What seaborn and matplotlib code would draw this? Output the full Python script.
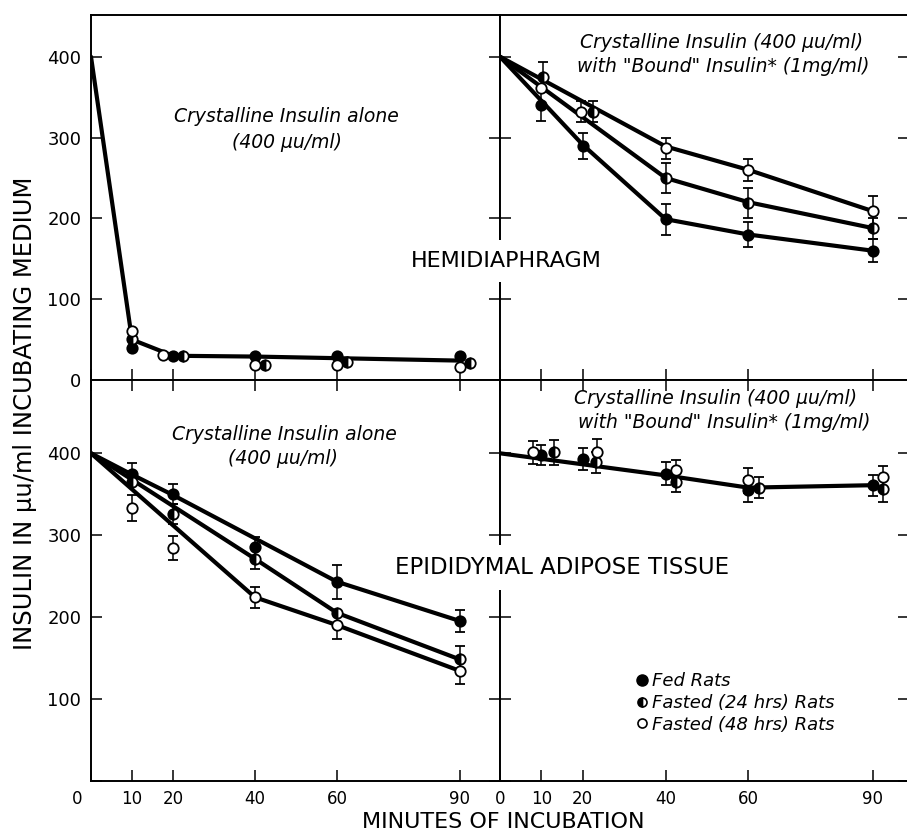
import matplotlib
matplotlib.use("Agg")
import matplotlib.pyplot as plt
import matplotlib.transforms as mtransforms
from matplotlib.lines import Line2D
import seaborn as sns

sns.set_theme(style="ticks")
plt.rcParams['font.family'] = ['DejaVu Sans']
plt.rcParams['text.color'] = 'black'
plt.rcParams['axes.labelcolor'] = 'black'
plt.rcParams['xtick.color'] = 'black'
plt.rcParams['ytick.color'] = 'black'

# ---------------- data ----------------
minutes_ticks = [0, 10, 20, 40, 60, 90]
y_ticks = [0, 100, 200, 300, 400]
group_labels = ["Fed Rats", "Fasted (24 hrs) Rats", "Fasted (48 hrs) Rats"]

# Hemidiaphragm, crystalline insulin alone (top-left)
hd_alone_line_x = [0, 10, 20, 40, 60, 90]
hd_alone_line_y = [400, 50, 30, 29, 27, 24]
hd_alone_fed_x = [10, 20, 40, 60, 90]
hd_alone_fed_y = [40, 30, 30, 30, 30]
hd_alone_f24_x = [10, 22.5, 42.5, 62.5, 92.5]
hd_alone_f24_y = [51, 30, 18.5, 22.5, 20.5]
hd_alone_f48_x = [10, 17.5, 40, 60, 90]
hd_alone_f48_y = [61, 31, 18.5, 18.5, 16.5]

# Hemidiaphragm, with bound insulin (top-right)
hd_bound_fed_line_x = [0, 20, 40, 60, 90]
hd_bound_fed_line_y = [400, 291, 199, 180, 160]
hd_bound_f24_line_x = [0, 40, 60, 90]
hd_bound_f24_line_y = [400, 250, 220, 188]
hd_bound_f48_line_x = [0, 40, 60, 90]
hd_bound_f48_line_y = [400, 289, 260, 209]
hd_bound_fed_x = [10, 20, 40, 60, 90]
hd_bound_fed_y = [340, 290, 199, 180, 160]
hd_bound_fed_err = [19, 16, 19, 15, 14]
hd_bound_f24_x = [10.5, 22.5, 40, 60, 90]
hd_bound_f24_y = [375, 332, 250, 219, 188]
hd_bound_f24_err = [19, 13, 19, 18, 13]
hd_bound_f48_x = [10, 19.5, 40, 60, 90]
hd_bound_f48_y = [361, 332, 287, 260, 209]
hd_bound_f48_err = [0, 13, 13, 14, 19]

# Epididymal adipose tissue, crystalline insulin alone (bottom-left)
ad_alone_fed_line_x = [0, 10, 20, 60, 90]
ad_alone_fed_line_y = [400, 374, 349, 243, 195]
ad_alone_f24_line_x = [0, 40, 60, 90]
ad_alone_f24_line_y = [400, 271, 205, 148]
ad_alone_f48_line_x = [0, 40, 60, 90]
ad_alone_f48_line_y = [400, 224, 190, 134]
ad_alone_fed_x = [10, 20, 40, 60, 90]
ad_alone_fed_y = [375, 350, 286, 243, 195]
ad_alone_fed_err = [13, 12, 12, 21, 13]
ad_alone_f24_x = [10, 20, 40, 60, 90]
ad_alone_f24_y = [365, 326, 271, 205, 148]
ad_alone_f24_err = [0, 12, 13, 0, 17]
ad_alone_f48_x = [10, 20, 40, 60, 90]
ad_alone_f48_y = [333, 284, 224, 190, 134]
ad_alone_f48_err = [16, 15, 13, 17, 16]

# Epididymal adipose tissue, with bound insulin (bottom-right)
ad_bound_line_x = [0, 40, 60, 90]
ad_bound_line_y = [400, 373, 358, 361]
ad_bound_fed_x = [10, 20, 40, 60, 90]
ad_bound_fed_y = [398, 393, 375, 355, 361]
ad_bound_fed_err = [12, 13, 14, 15, 13]
ad_bound_f24_x = [13, 23.3, 42.6, 62.5, 92.6]
ad_bound_f24_y = [401, 389, 365, 358, 356]
ad_bound_f24_err = [15, 13, 12, 13, 15]
ad_bound_f48_x = [8, 23.5, 42.6, 60, 92.5]
ad_bound_f48_y = [401, 402, 380, 367, 371]
ad_bound_f48_err = [14, 15, 12, 15, 14]

# ---------------- figure ----------------
W, H = 907, 831
fig = plt.figure(figsize=(W / 100, H / 100), dpi=100)
gs = fig.add_gridspec(2, 2, left=91 / W, right=909 / W, top=1 - 15 / H,
                      bottom=1 - 780.5 / H, wspace=0, hspace=0,
                      height_ratios=[365, 400.5])
ax_tl = fig.add_subplot(gs[0, 0])
ax_tr = fig.add_subplot(gs[0, 1])
ax_bl = fig.add_subplot(gs[1, 0])
ax_br = fig.add_subplot(gs[1, 1])


def fx(x):
    return x / W


def fy(y):
    return 1 - y / H


style = dict(
    fed=dict(mfc='black', fillstyle='full', ms=7.5),
    f24=dict(mfc='black', fillstyle='left', markerfacecoloralt='white', ms=7.5),
    f48=dict(mfc='white', fillstyle='full', ms=7.5),
)


def draw_line(ax, xs, ys):
    sns.lineplot(x=xs, y=ys, ax=ax, color='black', linewidth=3.0, sort=False,
                 zorder=2, solid_joinstyle='round', solid_capstyle='round')


def draw_points(ax, xs, ys, kind, err=None):
    st = style[kind]
    ax.errorbar(xs, ys, yerr=err, fmt='o', mec='black', mew=1.3,
                ecolor='black', elinewidth=1.1, capsize=3.8, capthick=1.1,
                zorder=3, **st)


# top-left
draw_line(ax_tl, hd_alone_line_x, hd_alone_line_y)
draw_points(ax_tl, hd_alone_fed_x, hd_alone_fed_y, 'fed')
draw_points(ax_tl, hd_alone_f24_x, hd_alone_f24_y, 'f24')
draw_points(ax_tl, hd_alone_f48_x, hd_alone_f48_y, 'f48')

# top-right
draw_line(ax_tr, hd_bound_fed_line_x, hd_bound_fed_line_y)
draw_line(ax_tr, hd_bound_f24_line_x, hd_bound_f24_line_y)
draw_line(ax_tr, hd_bound_f48_line_x, hd_bound_f48_line_y)
draw_points(ax_tr, hd_bound_fed_x, hd_bound_fed_y, 'fed', hd_bound_fed_err)
draw_points(ax_tr, hd_bound_f24_x, hd_bound_f24_y, 'f24', hd_bound_f24_err)
draw_points(ax_tr, hd_bound_f48_x, hd_bound_f48_y, 'f48', hd_bound_f48_err)

# bottom-left
draw_line(ax_bl, ad_alone_fed_line_x, ad_alone_fed_line_y)
draw_line(ax_bl, ad_alone_f24_line_x, ad_alone_f24_line_y)
draw_line(ax_bl, ad_alone_f48_line_x, ad_alone_f48_line_y)
draw_points(ax_bl, ad_alone_fed_x, ad_alone_fed_y, 'fed', ad_alone_fed_err)
draw_points(ax_bl, ad_alone_f24_x, ad_alone_f24_y, 'f24', ad_alone_f24_err)
draw_points(ax_bl, ad_alone_f48_x, ad_alone_f48_y, 'f48', ad_alone_f48_err)

# bottom-right
draw_line(ax_br, ad_bound_line_x, ad_bound_line_y)
draw_points(ax_br, ad_bound_fed_x, ad_bound_fed_y, 'fed', ad_bound_fed_err)
draw_points(ax_br, ad_bound_f24_x, ad_bound_f24_y, 'f24', ad_bound_f24_err)
draw_points(ax_br, ad_bound_f48_x, ad_bound_f48_y, 'f48', ad_bound_f48_err)

# ---------------- axes styling ----------------
for ax, top_row, left_col in [(ax_tl, True, True), (ax_tr, True, False),
                              (ax_bl, False, True), (ax_br, False, False)]:
    ax.set_xlim(0, 99.8 if left_col else 98.8)
    ax.set_ylim(0, 451.6 if top_row else 489.6)
    ax.set_xlabel('')
    ax.set_ylabel('')
    ax.set_xticks(minutes_ticks)
    ax.set_yticks(y_ticks)
    for sp in ax.spines.values():
        sp.set_visible(True)
        sp.set_linewidth(1.4)
        sp.set_color('black')
    ax.tick_params(direction='in', length=8, width=1.1, color='black',
                   labelcolor='black',
                   left=True, right=True, bottom=True, top=not top_row,
                   labelleft=left_col, labelbottom=not top_row, pad=7)
    ax.tick_params(axis='x', labelsize=12, pad=7)
    ax.tick_params(axis='y', labelsize=13, pad=7)
    ax.set_facecolor('white')

ax_bl.set_yticks(y_ticks)
ax_bl.set_yticklabels([''] + [str(v) for v in y_ticks[1:]])
# shift the corner "0" of the bottom-left axis slightly left
lbl0 = ax_bl.get_xticklabels()[0]
lbl0.set_transform(lbl0.get_transform() +
                   mtransforms.ScaledTranslation(-14 / 100, 0, fig.dpi_scale_trans))

# ---------------- texts ----------------
ann = dict(fontsize=13.5, style='italic', ha='center', va='center')
fig.text(fx(286), fy(117), "Crystalline Insulin alone", **ann)
fig.text(fx(287), fy(142), "(400 μu/ml)", **ann)
fig.text(fx(722), fy(42), "Crystalline Insulin (400 μu/ml)", **ann)
fig.text(fx(723), fy(66), "with \"Bound\" Insulin* (1mg/ml)", **ann)
fig.text(fx(284), fy(435), "Crystalline Insulin alone", **ann)
fig.text(fx(283), fy(459), "(400 μu/ml)", **ann)
fig.text(fx(716), fy(398), "Crystalline Insulin (400 μu/ml)", **ann)
fig.text(fx(724), fy(423), "with \"Bound\" Insulin* (1mg/ml)", **ann)

box = dict(facecolor='white', edgecolor='none', pad=8)
fig.text(fx(506), fy(261), "HEMIDIAPHRAGM", fontsize=16, ha='center',
         va='center', bbox=box, zorder=10)
fig.text(fx(562), fy(567), "EPIDIDYMAL ADIPOSE TISSUE", fontsize=16.5,
         ha='center', va='center', bbox=box, zorder=10)

fig.text(fx(503), fy(822), "MINUTES OF INCUBATION", fontsize=16,
         ha='center', va='center')
fig.text(fx(25), fy(413), "INSULIN IN μu/ml INCUBATING MEDIUM", fontsize=17.5,
         rotation=90, ha='center', va='center')

# ---------------- legend ----------------
handles = [
    Line2D([], [], linestyle='none', marker='o', mfc='black', mec='black', ms=8),
    Line2D([], [], linestyle='none', marker='o', mfc='black', mec='black',
           fillstyle='left', markerfacecoloralt='white', ms=6.5, mew=1.2),
    Line2D([], [], linestyle='none', marker='o', mfc='white', mec='black',
           ms=6.5, mew=1.2),
]
leg = fig.legend(handles, group_labels, loc='center left',
                 bbox_to_anchor=(fx(620), fy(703)), bbox_transform=fig.transFigure,
                 frameon=False, fontsize=13, handlelength=0.6,
                 handletextpad=0.3, labelspacing=0.2, borderpad=0.4)
for t in leg.get_texts():
    t.set_style('italic')
    t.set_color('black')

fig.savefig("out.png", dpi=100, facecolor='white')
